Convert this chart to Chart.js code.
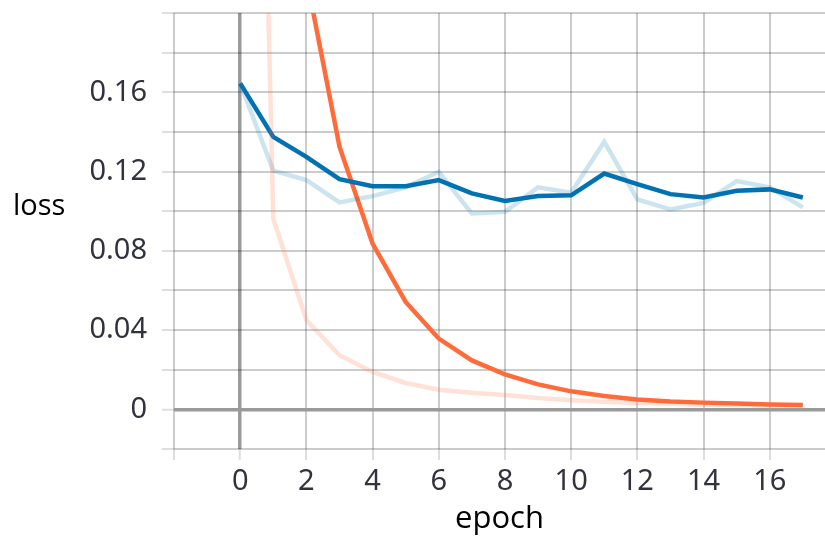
<!DOCTYPE html>
<html lang="en">
<head>
<meta charset="UTF-8">
<title>loss vs epoch</title>
<script src="https://cdn.jsdelivr.net/npm/chart.js"></script>
<style>
    html, body { margin: 0; padding: 0; background: #fff; }
    #wrap { width: 825px; height: 538px; position: relative; }
</style>
</head>
<body>
<div id="wrap"><canvas id="lossChart"></canvas></div>
<script>
    // values
    const epochs = [0, 1, 2, 3, 4, 5, 6, 7, 8, 9, 10, 11, 12, 13, 14, 15, 16, 17];
    const valLossRaw = [0.1645, 0.1204, 0.1157, 0.1044, 0.1076, 0.112, 0.1199, 0.0988, 0.0997, 0.112, 0.1093, 0.135, 0.106, 0.1009, 0.1042, 0.1152, 0.112, 0.1019];
    const valLossSmooth = [0.1645, 0.1375, 0.1274, 0.1162, 0.1126, 0.1126, 0.1157, 0.109, 0.1052, 0.1076, 0.108, 0.119, 0.1136, 0.1086, 0.1069, 0.1103, 0.111, 0.1069];
    const lossRaw = [0.8, 0.0963, 0.045, 0.0273, 0.0189, 0.0133, 0.0099, 0.0084, 0.0072, 0.0057, 0.0046, 0.0038, 0.0032, 0.0028, 0.0025, 0.0022, 0.002, 0.0018];
    const lossSmooth = [0.8, 0.4, 0.218, 0.1325, 0.0837, 0.0542, 0.0357, 0.0247, 0.0177, 0.0126, 0.0091, 0.0067, 0.005, 0.004, 0.0034, 0.0029, 0.0025, 0.0022];
    const yLabelSteps = [0, 4, 8, 12, 16]; // hundredths that carry a label

    const BLUE = '#0072b2', ORANGE = '#ff6b3b';
    const toPoints = ys => epochs.map((e, i) => ({ x: e, y: ys[i] }));

    const gridColor = 'rgba(0, 0, 0, 0.2)';
    const tickColor = 'rgba(0, 0, 0, 0.13)';
    const zeroColor = '#9a9a9a';

    const yTitle = {
        id: 'yTitle',
        afterDraw(chart) {
            const ctx = chart.ctx;
            ctx.save();
            ctx.font = "29px 'Open Sans'";
            ctx.fillStyle = '#000';
            ctx.textAlign = 'left';
            ctx.textBaseline = 'middle';
            ctx.fillText('loss', 13, 207);
            ctx.restore();
        }
    };

    new Chart(document.getElementById('lossChart').getContext('2d'), {
        type: 'line',
        data: {
            datasets: [
                { data: toPoints(lossRaw), borderColor: 'rgba(255, 107, 59, 0.2)', borderWidth: 4.5 },
                { data: toPoints(valLossRaw), borderColor: 'rgba(0, 114, 178, 0.2)', borderWidth: 4.5 },
                { data: toPoints(valLossSmooth), borderColor: BLUE, borderWidth: 4.5 },
                { data: toPoints(lossSmooth), borderColor: ORANGE, borderWidth: 4.5 }
            ]
        },
        options: {
            responsive: true,
            maintainAspectRatio: false,
            animation: false,
            layout: { padding: { top: 13, right: 0, left: 0, bottom: 0 } },
            elements: { point: { radius: 0 }, line: { tension: 0 } },
            plugins: { legend: { display: false }, tooltip: { enabled: false } },
            scales: {
                x: {
                    type: 'linear',
                    min: -2,
                    max: 17.67,
                    border: { display: false },
                    grid: {
                        color: c => c.tick && c.tick.value === 0 ? zeroColor : gridColor,
                        lineWidth: c => c.tick && c.tick.value === 0 ? 3.5 : 2,
                        tickColor: tickColor,
                        tickWidth: 2,
                        tickLength: 11
                    },
                    ticks: {
                        stepSize: 2,
                        includeBounds: false,
                        autoSkip: false,
                        maxRotation: 0,
                        padding: 4,
                        color: '#32323f',
                        font: { family: "'Noto Sans'", size: 29 },
                        callback: v => v < 0 ? '' : String(v)
                    },
                    title: {
                        display: true,
                        text: 'epoch',
                        color: '#000',
                        font: { family: "'Open Sans'", size: 31 },
                        padding: { top: 0, bottom: 0 }
                    },
                    afterFit: s => { s.height = 89; s.paddingLeft = 0; s.paddingRight = 0; }
                },
                y: {
                    min: -0.02,
                    max: 0.2,
                    border: { display: false },
                    grid: {
                        color: c => c.tick && Math.abs(c.tick.value) < 1e-9 ? zeroColor : gridColor,
                        lineWidth: c => c.tick && Math.abs(c.tick.value) < 1e-9 ? 3.5 : 2,
                        tickColor: tickColor,
                        tickWidth: 2,
                        tickLength: 12
                    },
                    ticks: {
                        stepSize: 0.02,
                        autoSkip: false,
                        padding: 15,
                        color: '#32323f',
                        font: { family: "'Noto Sans'", size: 29 },
                        callback: v => {
                            const h = Math.round(v * 100);
                            if (!yLabelSteps.includes(h)) return '';
                            return h === 0 ? '0' : (h / 100).toFixed(2);
                        }
                    },
                    afterFit: s => { s.width = 174; s.paddingTop = 0; s.paddingBottom = 0; }
                }
            }
        },
        plugins: [yTitle]
    });
</script>
</body>
</html>
